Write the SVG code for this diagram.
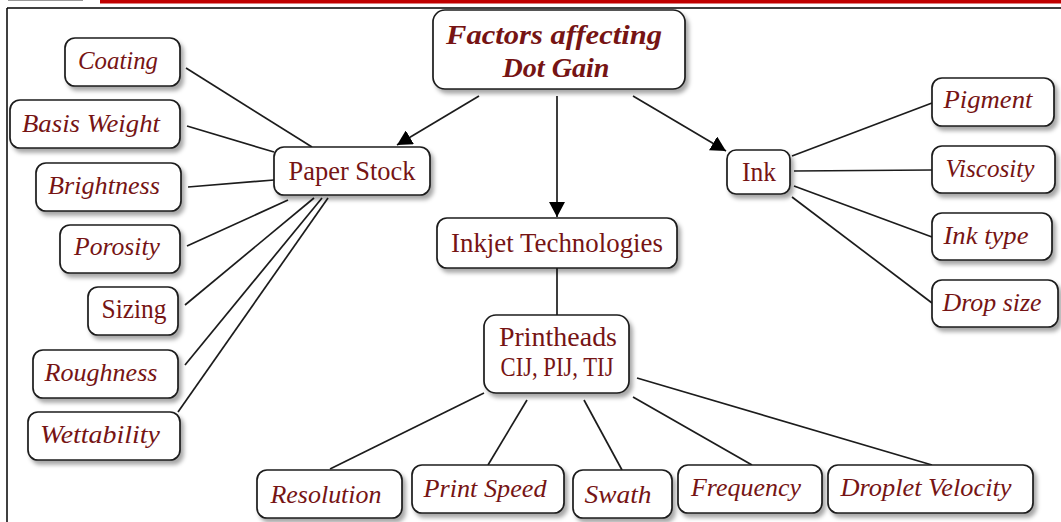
<svg xmlns="http://www.w3.org/2000/svg" width="1061" height="522" viewBox="0 0 1061 522">
<style>
.box{fill:#fff;stroke:#1c1c1c;stroke-width:1.7;filter:url(#sh)}
.t{font-family:"Liberation Serif","Times New Roman",serif;fill:#761414;text-anchor:middle}
.it{font-style:italic;font-size:26px}
.rg{font-size:27px}
.ti{font-style:italic;font-weight:bold;font-size:28px}
.ln{stroke:#1c1c1c;stroke-width:1.7;fill:none}
</style>
<defs>
<filter id="sh" x="-20%" y="-20%" width="140%" height="150%">
<feDropShadow dx="3" dy="4" stdDeviation="2" flood-color="#000" flood-opacity="0.35"/>
</filter>
<marker id="ar" markerUnits="userSpaceOnUse" markerWidth="16" markerHeight="16" refX="15" refY="8" orient="auto">
<path d="M0,0 L15,8 L0,16 z" fill="#000"/>
</marker>
</defs>
<rect x="0" y="0" width="1061" height="522" fill="#fff"/>
<rect x="100" y="0" width="961" height="3.5" fill="#c00000"/>
<line x1="8" y1="0.5" x2="83" y2="0.5" stroke="#555" stroke-width="1" opacity="0.6"/>
<line x1="7" y1="8" x2="1061" y2="8" stroke="#000" stroke-width="1.5"/>
<line x1="7" y1="8" x2="7" y2="522" stroke="#000" stroke-width="1.5"/>

<g id="connectors">
<line class="ln" x1="479" y1="96" x2="397" y2="145" marker-end="url(#ar)"/>
<line class="ln" x1="557" y1="96" x2="557" y2="217" marker-end="url(#ar)"/>
<line class="ln" x1="633" y1="96" x2="726" y2="151" marker-end="url(#ar)"/>
<line class="ln" x1="186" y1="68" x2="312" y2="147"/>
<line class="ln" x1="187" y1="126" x2="274" y2="152"/>
<line class="ln" x1="188" y1="187" x2="274" y2="180"/>
<line class="ln" x1="187" y1="246" x2="288" y2="200"/>
<line class="ln" x1="185" y1="305" x2="314" y2="198"/>
<line class="ln" x1="185" y1="365" x2="322" y2="198"/>
<line class="ln" x1="178" y1="412" x2="328" y2="198"/>
<line class="ln" x1="557" y1="268" x2="557" y2="315"/>
<line class="ln" x1="792" y1="156" x2="932" y2="103"/>
<line class="ln" x1="794" y1="171" x2="932" y2="170"/>
<line class="ln" x1="794" y1="186" x2="932" y2="237"/>
<line class="ln" x1="792" y1="197" x2="932" y2="303"/>
<line class="ln" x1="484" y1="393" x2="330" y2="469"/>
<line class="ln" x1="527" y1="400" x2="488" y2="465"/>
<line class="ln" x1="584" y1="400" x2="622" y2="470"/>
<line class="ln" x1="633" y1="397" x2="752" y2="465"/>
<line class="ln" x1="637" y1="378" x2="932" y2="465"/>
</g>

<g id="title"><rect class="box" x="433" y="10" width="252" height="79" rx="12"/>
<text class="t ti" x="554" y="44" textLength="216" lengthAdjust="spacingAndGlyphs">Factors affecting</text>
<text class="t ti" x="556" y="77" textLength="107" lengthAdjust="spacingAndGlyphs">Dot Gain</text></g>

<g id="paper-stock"><rect class="box" x="274" y="147" width="156" height="48" rx="10"/>
<text class="t rg" x="352" y="180" textLength="127" lengthAdjust="spacingAndGlyphs">Paper Stock</text></g>

<g id="coating"><rect class="box" x="65" y="38" width="115" height="48" rx="10"/>
<text class="t it" x="118" y="69" textLength="80" lengthAdjust="spacingAndGlyphs">Coating</text></g>

<g id="basis-weight"><rect class="box" x="10" y="100" width="170" height="48" rx="10"/>
<text class="t it" x="91" y="132" textLength="138" lengthAdjust="spacingAndGlyphs">Basis Weight</text></g>

<g id="brightness"><rect class="box" x="36" y="163" width="145" height="48" rx="10"/>
<text class="t it" x="104" y="194" textLength="112" lengthAdjust="spacingAndGlyphs">Brightness</text></g>

<g id="porosity"><rect class="box" x="60" y="225" width="120" height="48" rx="10"/>
<text class="t it" x="117" y="255" textLength="86" lengthAdjust="spacingAndGlyphs">Porosity</text></g>

<g id="sizing"><rect class="box" x="88" y="287" width="90" height="48" rx="10"/>
<text class="t rg" x="134" y="318" textLength="65" lengthAdjust="spacingAndGlyphs">Sizing</text></g>

<g id="roughness"><rect class="box" x="33" y="350" width="145" height="48" rx="10"/>
<text class="t it" x="101" y="381" textLength="113" lengthAdjust="spacingAndGlyphs">Roughness</text></g>

<g id="wettability"><rect class="box" x="28" y="412" width="152" height="48" rx="10"/>
<text class="t it" x="100" y="443" textLength="120" lengthAdjust="spacingAndGlyphs">Wettability</text></g>

<g id="inkjet"><rect class="box" x="437" y="218" width="240" height="50" rx="10"/>
<text class="t rg" x="557" y="252" textLength="212" lengthAdjust="spacingAndGlyphs">Inkjet Technologies</text></g>

<g id="printheads"><rect class="box" x="484" y="315" width="145" height="78" rx="12"/>
<text class="t rg" x="558" y="346" textLength="118" lengthAdjust="spacingAndGlyphs">Printheads</text>
<text class="t rg" x="557" y="376" textLength="113" lengthAdjust="spacingAndGlyphs">CIJ, PIJ, TIJ</text></g>

<g id="ink"><rect class="box" x="727" y="150" width="63" height="44" rx="9"/>
<text class="t rg" x="759" y="181" textLength="34" lengthAdjust="spacingAndGlyphs">Ink</text></g>

<g id="pigment"><rect class="box" x="932" y="78" width="122" height="48" rx="10"/>
<text class="t it" x="988" y="108" textLength="89" lengthAdjust="spacingAndGlyphs">Pigment</text></g>

<g id="viscosity"><rect class="box" x="932" y="146" width="123" height="47" rx="10"/>
<text class="t it" x="990" y="177" textLength="89" lengthAdjust="spacingAndGlyphs">Viscosity</text></g>

<g id="ink-type"><rect class="box" x="932" y="213" width="120" height="47" rx="10"/>
<text class="t it" x="986" y="244" textLength="85" lengthAdjust="spacingAndGlyphs">Ink type</text></g>

<g id="drop-size"><rect class="box" x="932" y="280" width="126" height="47" rx="10"/>
<text class="t it" x="992" y="311" textLength="99" lengthAdjust="spacingAndGlyphs">Drop size</text></g>

<g id="resolution"><rect class="box" x="257" y="470" width="145" height="48" rx="10"/>
<text class="t it" x="326" y="503" textLength="111" lengthAdjust="spacingAndGlyphs">Resolution</text></g>

<g id="print-speed"><rect class="box" x="412" y="465" width="152" height="48" rx="10"/>
<text class="t it" x="485" y="497" textLength="123" lengthAdjust="spacingAndGlyphs">Print Speed</text></g>

<g id="swath"><rect class="box" x="573" y="470" width="99" height="48" rx="10"/>
<text class="t it" x="618" y="503" textLength="67" lengthAdjust="spacingAndGlyphs">Swath</text></g>

<g id="frequency"><rect class="box" x="678" y="465" width="144" height="48" rx="10"/>
<text class="t it" x="746" y="496" textLength="110" lengthAdjust="spacingAndGlyphs">Frequency</text></g>

<g id="droplet-velocity"><rect class="box" x="828" y="465" width="205" height="48" rx="10"/>
<text class="t it" x="926" y="496" textLength="171" lengthAdjust="spacingAndGlyphs">Droplet Velocity</text></g>
</svg>
